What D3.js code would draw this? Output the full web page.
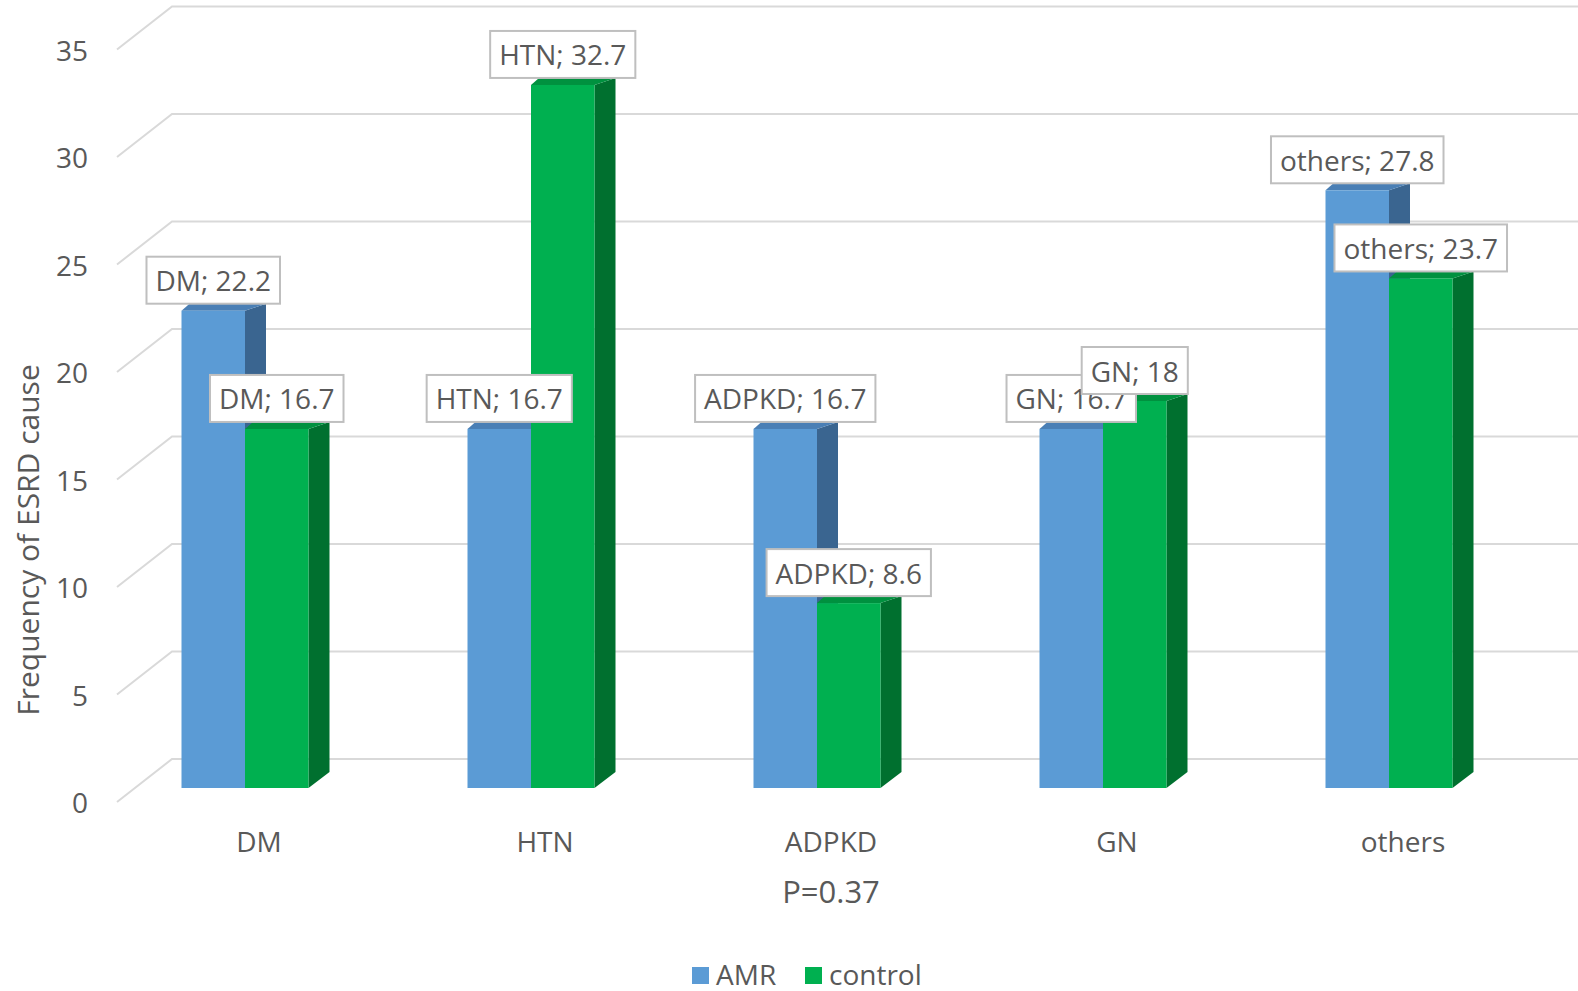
<!DOCTYPE html>
<html>
<head>
<meta charset="utf-8">
<script src="https://cdn.jsdelivr.net/npm/d3@7"></script>
<style>
  html, body { margin: 0; padding: 0; background: #fff; }
  svg { display: block; font-family: "Open Sans", "Noto Sans", sans-serif; }
</style>
</head>
<body>
<svg id="chart" width="1578" height="991"></svg>
<script>
// ESRD cause frequencies, AMR vs control
const categories = ["DM", "HTN", "ADPKD", "GN", "others"];
const seriesNames = ["AMR", "control"];
const amrValues = [22.2, 16.7, 16.7, 16.7, 27.8];
const controlValues = [16.7, 32.7, 8.6, 18, 23.7];
const yTicks = [0, 5, 10, 15, 20, 25, 30, 35];
const yTitle = "Frequency of ESRD cause";
const xNote = "P=0.37";

const colors = {
  AMR:     { front: "#5b9bd5", top: "#4a7fb5", side: "#3a6590" },
  control: { front: "#00b050", top: "#00913f", side: "#00702f" }
};
const textColor = "#595959";
const gridColor = "#d9d9d9";

const svg = d3.select("#chart");

// Oblique 3D frame: front edge of the floor/walls, back wall offset
const wallDX = 55, wallDY = -43;     // front edge -> back wall
const barDY = -14;                   // front edge -> bar front plane
const depthDX = 21, depthDYBase = -16, depthDYTop = -7, topLeftDX = 8;

const y = d3.scaleLinear().domain([0, 35]).range([802, 49.5]);
const frontX = 117;
const rightX = 1578;

const x = d3.scaleBand().domain(categories).range([102, 1532]);
const xs = d3.scaleBand().domain(seriesNames).range([-63.5, 63.5]);

// Gridlines: side-wall diagonal + back-wall horizontal
const grid = svg.append("g");
yTicks.forEach(t => {
  const yf = y(t), yBack = y(t) + wallDY;
  grid.append("path")
    .attr("d", `M${frontX},${yf}L${frontX + wallDX},${yBack}L${rightX},${yBack}`)
    .attr("fill", "none").attr("stroke", gridColor).attr("stroke-width", 2);
});

// Y tick labels
svg.append("g").selectAll("text").data(yTicks).join("text")
  .attr("x", 88).attr("y", d => y(d))
  .attr("text-anchor", "end").attr("dominant-baseline", "central")
  .attr("font-size", 28).attr("fill", textColor)
  .text(d => d);

// Y axis title
svg.append("text")
  .attr("transform", "translate(27,540) rotate(-90)")
  .attr("text-anchor", "middle").attr("dominant-baseline", "central")
  .attr("font-size", 30).attr("fill", textColor)
  .text(yTitle);

// Bars
const data = [];
categories.forEach((c, i) => {
  data.push({ cat: c, series: "AMR", value: amrValues[i] });
  data.push({ cat: c, series: "control", value: controlValues[i] });
});

const yb = v => y(v) + barDY;
const bars = svg.append("g");
data.forEach(d => {
  const x0 = x(d.cat) + x.bandwidth() / 2 + xs(d.series);
  const x1 = x0 + xs.bandwidth();
  const top = yb(d.value), base = yb(0);
  const c = colors[d.series];
  const g = bars.append("g");
  // side face
  g.append("path")
    .attr("d", `M${x1},${top}L${x1 + depthDX},${top + depthDYTop}L${x1 + depthDX},${base + depthDYBase}L${x1},${base}Z`)
    .attr("fill", c.side);
  // top face
  g.append("path")
    .attr("d", `M${x0},${top}L${x1},${top}L${x1 + depthDX},${top + depthDYTop}L${x0 + topLeftDX},${top + depthDYTop}Z`)
    .attr("fill", c.top);
  // front face
  g.append("rect")
    .attr("x", x0).attr("y", top).attr("width", x1 - x0).attr("height", base - top)
    .attr("fill", c.front);
});

// Data labels (boxed) above each bar
const labels = svg.append("g");
data.forEach(d => {
  const cx = x(d.cat) + x.bandwidth() / 2 + xs(d.series) + xs.bandwidth() / 2;
  const bottom = yb(d.value) - 7;
  const g = labels.append("g");
  const rect = g.append("rect");
  const txt = g.append("text")
    .attr("x", cx).attr("y", bottom - 23.5)
    .attr("text-anchor", "middle").attr("dominant-baseline", "central")
    .attr("font-size", 28).attr("fill", textColor)
    .text(`${d.cat}; ${d.value}`);
  const w = txt.node().getComputedTextLength() + 18;
  rect.attr("x", cx - w / 2).attr("y", bottom - 47).attr("width", w).attr("height", 47)
    .attr("fill", "#fff").attr("stroke", "#bfbfbf").attr("stroke-width", 2);
});

// Category labels
svg.append("g").selectAll("text").data(categories).join("text")
  .attr("x", d => x(d) + x.bandwidth() / 2 + 14).attr("y", 841)
  .attr("text-anchor", "middle").attr("dominant-baseline", "central")
  .attr("font-size", 28).attr("fill", textColor)
  .text(d => d);

// Axis note
svg.append("text")
  .attr("x", 831).attr("y", 891)
  .attr("text-anchor", "middle").attr("dominant-baseline", "central")
  .attr("font-size", 31).attr("fill", textColor)
  .text(xNote);

// Legend
const legend = svg.append("g");
const legendX = [692, 805];
seriesNames.forEach((s, i) => {
  legend.append("rect")
    .attr("x", legendX[i]).attr("y", 967).attr("width", 17).attr("height", 17)
    .attr("fill", colors[s].front);
  legend.append("text")
    .attr("x", legendX[i] + 24).attr("y", 974)
    .attr("dominant-baseline", "central")
    .attr("font-size", 28).attr("fill", textColor)
    .text(s);
});
</script>
</body>
</html>
